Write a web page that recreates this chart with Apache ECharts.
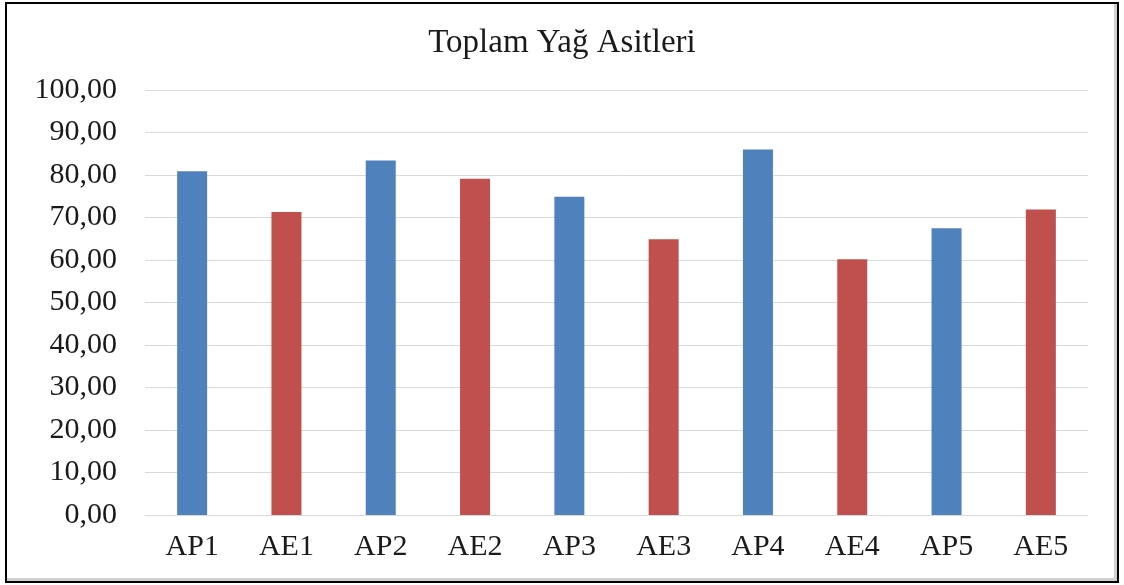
<!DOCTYPE html>
<html>
<head>
<meta charset="utf-8">
<script src="https://cdn.jsdelivr.net/npm/echarts@6/dist/echarts.min.js"></script>
<style>
    html, body { margin: 0; padding: 0; background: #fff; }
    #wrap { position: relative; width: 1124px; height: 585px; }
    #chart { position: absolute; left: 0; top: 0; width: 1124px; height: 585px; }
    #frame {
        position: absolute; left: 5px; top: 2px; width: 1110px; height: 577px;
        border: 2px solid #000; pointer-events: none;
        box-shadow: inset -3px -3px 0 #d0d0d0;
    }
</style>
</head>
<body>
<div id="wrap">
    <div id="chart"></div>
    <div id="frame"></div>
</div>
<script>
const categories = ['AP1', 'AE1', 'AP2', 'AE2', 'AP3', 'AE3', 'AP4', 'AE4', 'AP5', 'AE5'];
const values = [80.9, 71.3, 83.4, 79.1, 74.9, 64.9, 86.0, 60.2, 67.5, 71.9];
const yTicks = [0, 10, 20, 30, 40, 50, 60, 70, 80, 90, 100];

const apColor = '#4f81bd';
const aeColor = '#c0504d';
const gridColor = '#d9d9d9';
const fontFamily = '"Liberation Serif", "Times New Roman", serif';

const chart = echarts.init(document.getElementById('chart'));

//toplam yağ asitleri grafiği
const options = {
    animation: false,
    title: {
        text: 'Toplam Yağ Asitleri',
        left: 'center',
        top: 22,
        textStyle: {
            fontFamily: fontFamily,
            fontWeight: 'normal',
            fontSize: 33,
            color: '#1a1a1a'
        }
    },
    grid: {
        left: 145,
        right: 36,
        top: 90,
        bottom: 70
    },
    xAxis: {
        type: 'category',
        data: categories,
        axisTick: {show: false},
        axisLine: {
            show: true,
            lineStyle: {color: gridColor, width: 1}
        },
        axisLabel: {
            margin: 17,
            fontFamily: fontFamily,
            fontSize: 30,
            color: '#1a1a1a'
        }
    },
    yAxis: {
        type: 'value',
        min: yTicks[0],
        max: yTicks[yTicks.length - 1],
        interval: 10,
        axisTick: {show: false},
        axisLine: {show: false},
        splitLine: {
            show: true,
            lineStyle: {color: gridColor, width: 1}
        },
        axisLabel: {
            margin: 28,
            fontFamily: fontFamily,
            fontSize: 30,
            color: '#1a1a1a',
            formatter: function(v) {
                return v.toFixed(2).replace('.', ',');
            }
        }
    },
    series: [{
        type: 'bar',
        barWidth: 30,
        data: values.map(function(v, i) {
            return {
                value: v,
                itemStyle: {
                    color: categories[i].indexOf('AP') === 0 ? apColor : aeColor
                }
            };
        })
    }]
};
chart.setOption(options);
</script>
</body>
</html>
